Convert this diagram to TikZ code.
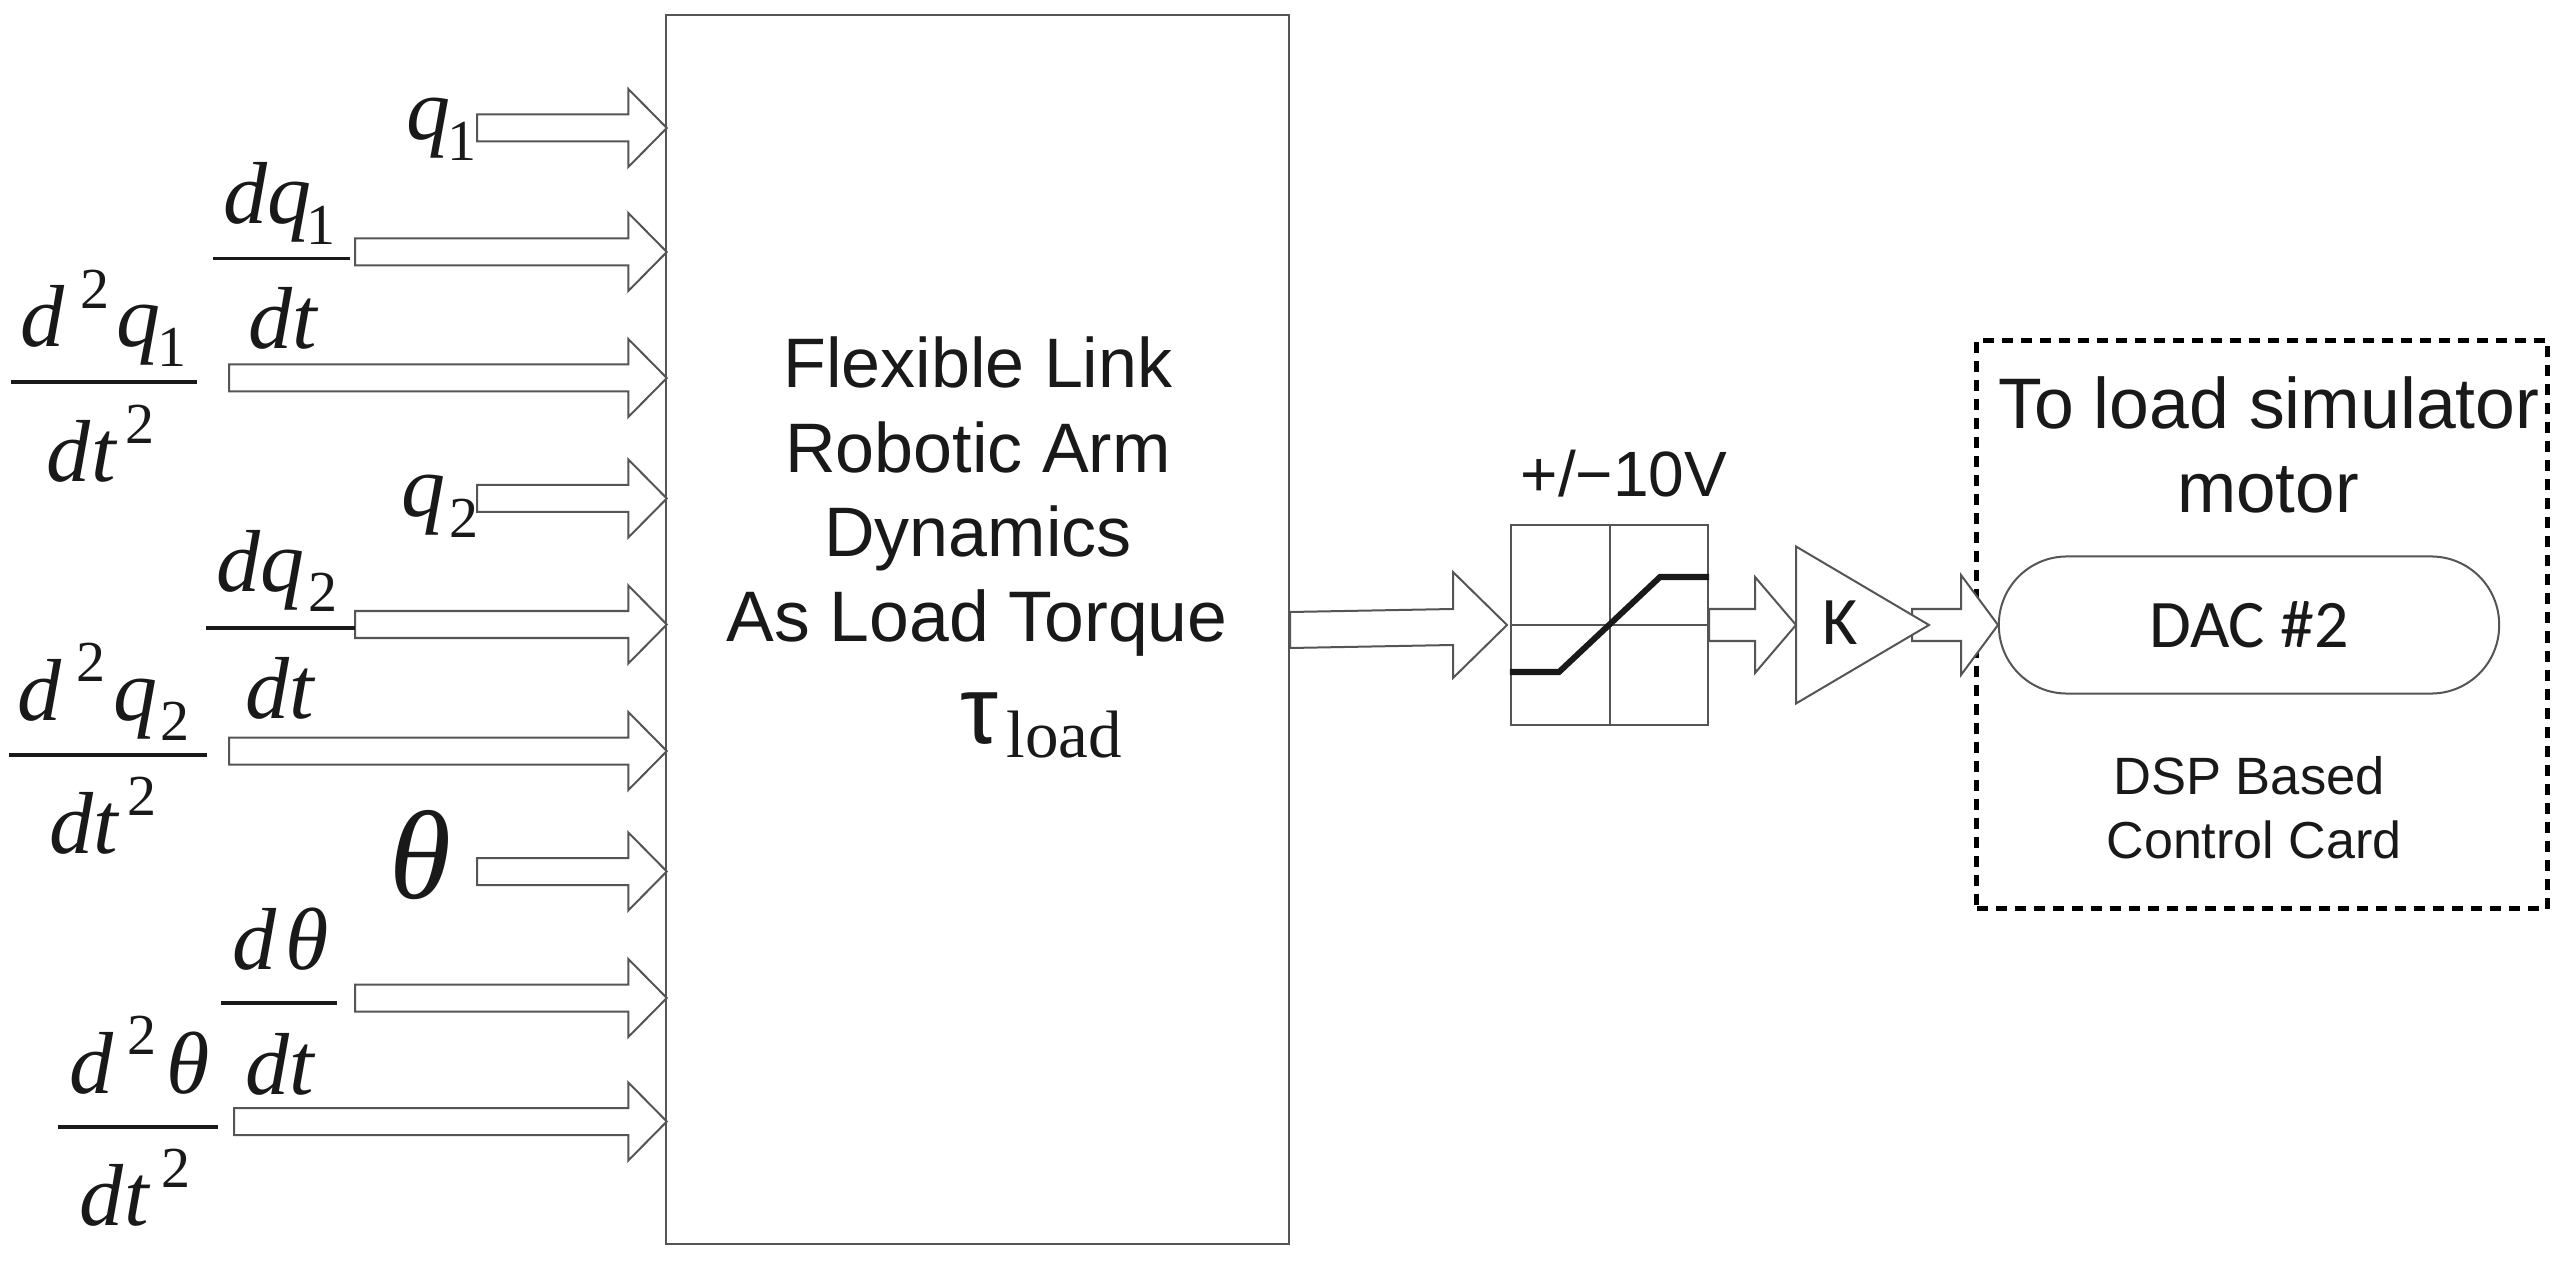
\documentclass[tikz,border=0pt]{standalone}
\usepackage{fontspec}
\setmainfont{Liberation Sans}
\newfontfamily\tmsf{Liberation Serif}
\newfontfamily\cbrf{Carlito}
\usetikzlibrary{calc}
\definecolor{linegray}{HTML}{555555}
\newcommand\pxfont[1]{\fontsize{\fpeval{#1*0.28453}}{\fpeval{#1*0.34}}\selectfont}
\newcommand\ksub[2][0]{\hspace{\fpeval{#1*0.01}cm}\raisebox{-0.2cm}{\pxfont{58}\upshape #2}}
\newcommand\ksup[2][0]{\hspace{\fpeval{#1*0.01}cm}\raisebox{0.38cm}{\pxfont{58}\upshape #2}}
\newcommand\kgap[1]{\hspace{\fpeval{#1*0.01}cm}}
% block arrow: tail coordinate, tip coordinate, half shaft, half head, head length
\newcommand\blockarrow[5]{\draw[blockline] ($(#1 |- #2)+(0,-#3)$) -- ($(#2)+(-#5,-#3)$) -- ($(#2)+(-#5,-#4)$) -- (#2) -- ($(#2)+(-#5,#4)$) -- ($(#2)+(-#5,#3)$) -- ($(#1 |- #2)+(0,#3)$) -- cycle;}
\tikzset{
  x=0.01cm,y=-0.01cm,
  blockline/.style={draw=linegray,line width=0.02cm,fill=white,line join=miter},
  mainbox/.style={draw=linegray,line width=0.02cm,fill=white,inner sep=0pt,minimum width=6.23cm,minimum height=12.29cm},
  sym/.style={anchor=base west,inner sep=0pt,outer sep=0pt,font=\tmsf\itshape\pxfont{88},text=black!90},
  bigsym/.style={sym,font=\tmsf\itshape\pxfont{126}},
  fracbar/.style={draw=black!90,line width=0.035cm},
  label/.style={anchor=base,inner sep=0pt,outer sep=0pt,text=black!90},
  armtext/.style={label,font=\pxfont{70}},
  satline/.style={draw=linegray,line width=0.02cm},
  cardbox/.style={draw=black,line width=0.05cm,dash pattern=on 0.11cm off 0.08cm,inner sep=0pt,minimum width=5.7cm,minimum height=5.68cm},
  dacbox/.style={draw=linegray,line width=0.02cm,fill=white,rounded corners=0.68cm,inner sep=0pt,minimum width=5cm,minimum height=1.37cm,font=\cbrf\pxfont{68},text=black!90},
}
\begin{document}
\begin{tikzpicture}
\useasboundingbox (0,0) rectangle (2566,1264);
\fill[white] (0,0) rectangle (2566,1264);

\node[mainbox] (main) at (977.5,629.5) {};

% input tails and tips
\foreach \nm/\tx/\ty in {a/477/128,b/355/252,c/229/378,d/477/498.5,e/355/624.5,f/229/751,g/477/871.5,h/355/998,i/234/1121.5}{
  \coordinate (t\nm) at (\tx,\ty);
  \coordinate (p\nm) at ($(main.west |- t\nm)+(2,0)$);
  \blockarrow{t\nm}{p\nm}{13.5}{39}{38.5}
}

% input labels
\node[sym] (lq1) at (406,140) {q\ksub[-3]{1}};
\node[sym] (ldq1) at (223,224) {dq\ksub[-5]{1}};
\path[fracbar] (213,258.6) coordinate (b1a) -- (350,258.6) coordinate (b1b);
\node[sym] (ldt1) at (248,348.5) {dt};
\node[sym] (lddq1) at (21,346.6) {d\ksup[15]{2}\kgap{7}q\ksub[-3]{1}};
\path[fracbar] (11,382) -- (197,382);
\node[sym] (ldtt1) at (47,482) {dt\ksup[10]{2}};

\node[sym] (lq2) at (401,517) {q\ksub[4]{2}};
\node[sym] (ldq2) at (216,591) {dq\ksub[4]{2}};
\path[fracbar] (206,628) -- (355,628);
\node[sym] (ldt2) at (245,718.5) {dt};
\node[sym] (lddq2) at (18,720) {d\ksup[14]{2}\kgap{8}q\ksub[3]{2}};
\path[fracbar] (9,755) -- (207,755);
\node[sym] (ldtt2) at (49,853.6) {dt\ksup[10]{2}};

\node[bigsym] (lth) at (389,898) {θ};
\node[sym] (ldth) at (232,969) {d\kgap{10}θ};
\path[fracbar] (221,1003) -- (337,1003);
\node[sym] (ldt3) at (245,1094) {dt};
\node[sym] (lddth) at (69,1093) {d\ksup[14]{2}\kgap{10}θ};
\path[fracbar] (58,1127) -- (218,1127);
\node[sym] (ldtt3) at (80,1225.5) {dt\ksup[13]{2}};

% text in the arm block
\node[armtext] (m1) at (978,388) {Flexible Link};
\node[armtext] (m2) at (978,473) {Robotic Arm};
\node[armtext] (m3) at (978,557) {Dynamics};
\node[armtext,font=\pxfont{71.5}] (m4) at (977,641) {As Load Torque};
\node[anchor=base west,inner sep=0pt,text=black!90] (tau) at (960,743) {\pxfont{96}τ};
\node[anchor=base west,inner sep=0pt,text=black!90,font=\tmsf\pxfont{67}] (load) at (1006,757) {load};

% dashed control card
\node[cardbox] (card) at (2262,624.5) {};
\node[label,font=\pxfont{71.5}] (c1) at (2269,429) {To load simulator};
\node[label,font=\pxfont{71}] (c2) at (2268,513) {motor};
\node[label,font=\pxfont{52.5}] (c3) at (2249,794.5) {DSP Based};
\node[label,font=\pxfont{52}] (c4) at (2254,858) {Control Card};

% saturation block
\node[draw=linegray,line width=0.02cm,fill=white,inner sep=0pt,minimum width=1.97cm,minimum height=1.995cm] (sat) at (1609.5,625) {};
\draw[satline] (sat.north) -- (sat.south);
\draw[satline] (sat.west) -- (sat.east);
\draw[line width=0.06cm,black!90,line join=miter] (sat.west |- 0,672) -- (1559,672) -- (1660,577) -- (sat.east |- 0,577);
\node[label,font=\pxfont{64}] (vlim) at (1624,497) {+/−10V};

% output arrow of the arm block
\coordinate (oin) at (1507,625);
\draw[blockline] (main.east |- 0,612) -- (1453,609) -- (1453,572) -- (oin) -- (1453,678) -- (1453,645) -- (main.east |- 0,648) -- cycle;

% sat to gain
\coordinate (kin) at (1796,625);
\coordinate (satout) at (sat.east);
\blockarrow{satout}{kin}{16}{48}{41}

% DAC and gain
\coordinate (dacin) at (1998,625);
\coordinate (ktail) at (1912,625);
\blockarrow{ktail}{dacin}{16}{50}{37}
\node[dacbox] (dac) at (2249,625) {DAC \#2};
\draw[blockline] (kin |- 0,546.5) -- (1929,625) coordinate (ktip) -- (kin |- 0,703.5) -- cycle;
\node[anchor=base west,inner sep=0pt,font=\cbrf\pxfont{68},text=black!90] (k) at (1822,645) {K};
\end{tikzpicture}
\end{document}
